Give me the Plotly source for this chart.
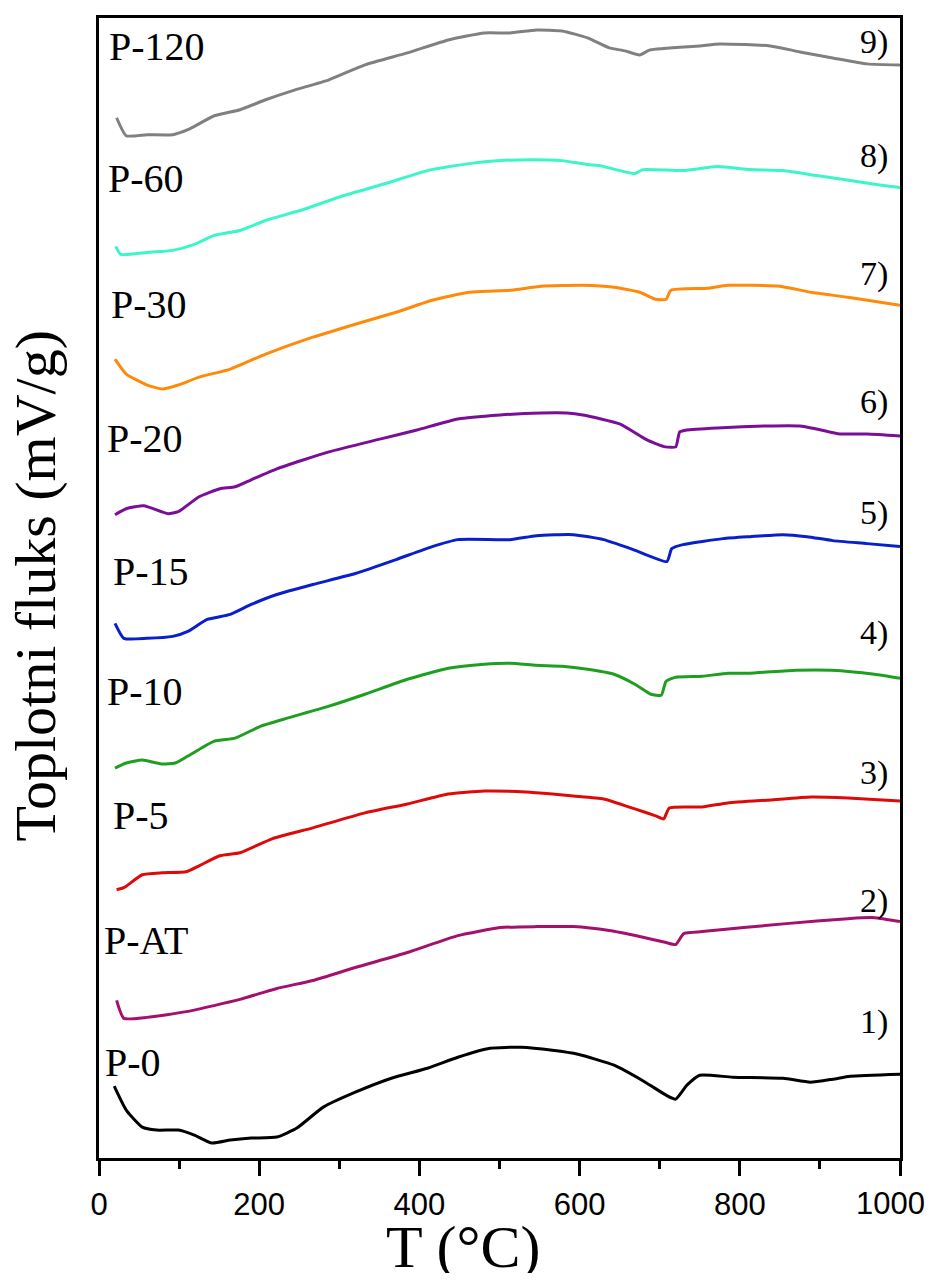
import plotly.graph_objects as go

# Temperature (°C) and heat flux (arbitrary offset units) for each sample
t_p0 = [19, 34, 54, 72, 99, 119, 141, 164, 190, 222, 247, 280, 320, 365, 410, 448, 488, 527, 566, 598, 643, 682, 708, 720, 734, 750, 791, 854, 888, 916, 938, 1000]
y_p0 = [72, 48, 31, 28, 28, 23, 15, 18, 20, 21, 30, 51, 66, 80, 90, 101, 110, 111, 108, 104, 93, 76, 63, 59, 73, 83, 81, 80, 76, 79, 82, 84]

t_pat = [22, 31, 60, 111, 176, 222, 267, 320, 385, 448, 501, 546, 592, 637, 675, 708, 720, 730, 753, 805, 858, 935, 968, 1000]
y_pat = [158, 140, 141, 147, 159, 170, 178, 191, 206, 223, 231, 232, 232, 228, 222, 216, 214, 225, 227, 231, 235, 240, 241, 237]

t_p5 = [22, 31, 54, 79, 109, 125, 151, 176, 216, 267, 332, 385, 436, 481, 533, 566, 592, 630, 669, 695, 705, 712, 753, 785, 838, 889, 935, 1000]
y_p5 = [269, 271, 284, 286, 287, 293, 303, 306, 320, 331, 346, 355, 365, 368, 367, 365, 363, 360, 350, 343, 340, 351, 352, 356, 359, 362, 361, 358]

t_p10 = [20, 34, 54, 79, 95, 111, 144, 170, 202, 235, 287, 332, 385, 436, 481, 513, 546, 578, 610, 643, 669, 689, 702, 708, 720, 753, 785, 812, 870, 915, 968, 1000]
y_p10 = [391, 396, 399, 395, 396, 403, 418, 421, 433, 441, 453, 465, 480, 491, 495, 496, 494, 493, 490, 485, 475, 465, 464, 478, 482, 483, 486, 486, 489, 489, 485, 481]

t_p15 = [20, 31, 60, 92, 111, 135, 164, 190, 222, 267, 320, 371, 416, 448, 513, 546, 592, 630, 667, 709, 715, 729, 779, 813, 854, 884, 916, 959, 1000]
y_p15 = [536, 521, 521, 523, 528, 540, 545, 555, 565, 575, 586, 600, 613, 620, 620, 624, 625, 620, 610, 598, 611, 615, 621, 623, 625, 623, 619, 616, 613]

t_p20 = [20, 34, 56, 86, 99, 125, 151, 170, 190, 222, 287, 352, 397, 448, 501, 552, 584, 604, 650, 684, 707, 720, 725, 734, 772, 834, 875, 896, 925, 959, 1000]
y_p20 = [645, 651, 654, 646, 648, 663, 671, 673, 680, 691, 708, 721, 730, 741, 745, 747, 747, 745, 736, 720, 713, 713, 728, 730, 732, 734, 734, 731, 726, 726, 724]

t_p30 = [20, 34, 60, 79, 99, 125, 164, 208, 267, 320, 371, 416, 462, 513, 552, 604, 643, 675, 695, 708, 714, 760, 785, 850, 889, 935, 1000]
y_p30 = [801, 786, 775, 771, 775, 783, 791, 806, 823, 836, 848, 860, 868, 870, 874, 875, 873, 868, 861, 861, 870, 872, 875, 874, 868, 863, 855]

t_p60 = [21, 27, 60, 92, 119, 144, 176, 208, 255, 306, 358, 410, 462, 501, 539, 578, 610, 625, 669, 679, 729, 772, 813, 854, 896, 938, 979, 1000]
y_p60 = [914, 906, 908, 910, 916, 925, 930, 940, 951, 965, 977, 990, 997, 1000, 1001, 1000, 996, 995, 987, 991, 990, 994, 991, 990, 985, 980, 975, 973]

t_p120 = [22, 34, 60, 92, 111, 144, 176, 208, 241, 287, 332, 385, 436, 481, 513, 546, 578, 610, 637, 657, 675, 688, 750, 775, 838, 875, 916, 959, 1000]
y_p120 = [1043, 1025, 1026, 1026, 1031, 1045, 1051, 1061, 1070, 1081, 1096, 1108, 1121, 1128, 1128, 1131, 1130, 1123, 1113, 1110, 1106, 1111, 1115, 1117, 1115, 1109, 1103, 1097, 1096]

names = ["P-0", "P-AT", "P-5", "P-10", "P-15", "P-20", "P-30", "P-60", "P-120"]
numbers = ["1)", "2)", "3)", "4)", "5)", "6)", "7)", "8)", "9)"]
temps = [t_p0, t_pat, t_p5, t_p10, t_p15, t_p20, t_p30, t_p60, t_p120]
fluxes = [y_p0, y_pat, y_p5, y_p10, y_p15, y_p20, y_p30, y_p60, y_p120]
colors = ["#000000", "#A3106E", "#DD0A0A", "#1F9F1F", "#0A1FCC", "#7A0E98", "#FF8A0A", "#3CF5C8", "#808080"]

x_tick_vals = [0, 200, 400, 600, 800, 1000]
x_tick_text = ["0", "200", "400", "600", "800", "1000"]

# label positions (layout only)
name_y = [96, 218, 343, 468, 588, 721, 856, 982, 1114]
name_x = [5, 4, 15, 7, 15, 7, 13, 9, 10]
num_y = [136, 258, 386, 526, 647, 758, 886, 1005, 1119]

fig = go.Figure()
for t, y, c, n in zip(temps, fluxes, colors, names):
    fig.add_trace(go.Scatter(x=t, y=y, mode="lines", name=n,
                             line=dict(color=c, width=3, shape="spline", smoothing=0.5),
                             showlegend=False))

annotations = []
for n, nx, ny in zip(names, name_x, name_y):
    annotations.append(dict(x=nx, y=ny, xref="x", yref="y", text=n, showarrow=False,
                            xanchor="left", yanchor="middle",
                            font=dict(family="Liberation Serif", size=40, color="black")))
for n, ny in zip(numbers, num_y):
    annotations.append(dict(x=988, y=ny, xref="x", yref="y", text=n, showarrow=False,
                            xanchor="right", yanchor="middle",
                            font=dict(family="Liberation Serif", size=34, color="black")))
# last tick label sits at the page edge; place it so it is not clipped
annotations.append(dict(x=1.034, y=-0.0395, xref="paper", yref="paper", text=x_tick_text[-1],
                        showarrow=False, xanchor="right", yanchor="middle",
                        font=dict(family="Liberation Sans", size=31, color="black")))
annotations.append(dict(x=0.455, y=-0.078, xref="paper", yref="paper", text="T (°C)",
                        showarrow=False, xanchor="center", yanchor="middle",
                        font=dict(family="Liberation Serif", size=60, color="black")))
annotations.append(dict(x=-0.079, y=0.502, xref="paper", yref="paper",
                        text="Toplotni fluks (mV/g)", textangle=-90,
                        showarrow=False, xanchor="center", yanchor="middle",
                        font=dict(family="Liberation Serif", size=58, color="black")))

fig.update_layout(
    width=920, height=1265,
    margin=dict(l=91, r=28, t=7, b=115),
    paper_bgcolor="white", plot_bgcolor="white",
    annotations=annotations,
)
fig.update_xaxes(range=[0, 1000], showgrid=False, zeroline=False,
                 showline=True, linecolor="black", linewidth=3, mirror=True,
                 ticks="outside", ticklen=15, tickwidth=2.5, tickcolor="black",
                 tickvals=x_tick_vals, ticktext=x_tick_text[:-1] + [""],
                 ticklabelstandoff=2,
                 tickfont=dict(family="Liberation Sans", size=31, color="black"),
                 minor=dict(ticks="outside", ticklen=8, tickwidth=2.5, tickcolor="black",
                            tickvals=[100, 300, 500, 700, 900]))
fig.update_yaxes(range=[0, 1143], showgrid=False, zeroline=False,
                 showline=True, linecolor="black", linewidth=3, mirror=True,
                 ticks="", showticklabels=False)

fig.write_html("out.html", config={"displayModeBar": False})
